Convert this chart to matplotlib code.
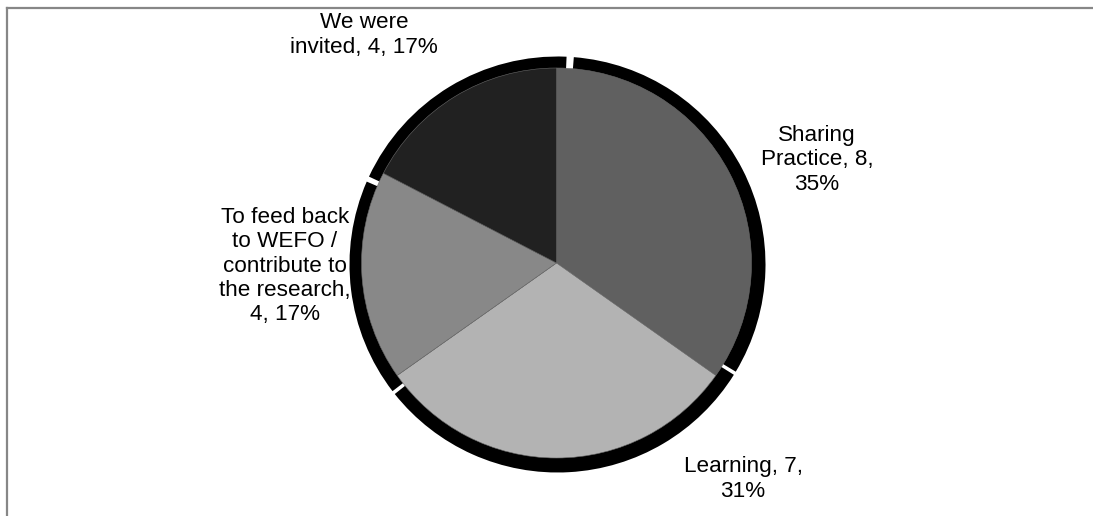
import matplotlib
matplotlib.use("Agg")
import matplotlib.pyplot as plt
from matplotlib.lines import Line2D

# ---- data ----
categories = ["Sharing Practice", "Learning",
              "To feed back to WEFO / contribute to the research", "We were invited"]
values = [8, 7, 4, 4]
percents = [35, 31, 17, 17]
labels = ["Sharing\nPractice, 8,\n35%",
          "Learning, 7,\n31%",
          "To feed back\nto WEFO /\ncontribute to\nthe research,\n4, 17%",
          "We were\ninvited, 4, 17%"]

# ---- style / layout ----
colors = ["#606060", "#b3b3b3", "#888888", "#212121"]
W, H = 1093, 516
pie_center = (556.5, H - 263)
pie_radius = 195
shadow_center = (557.5, H - 264.5)
shadow_radius = 208
shadow_pads = [(4.2, -4.5), (3.3, 3.2), (3.9, 2.3), (-2.5, 2.4)]
label_pos = [(817, 160), (743, 479), (285, 266), (364, 35)]

plt.rcParams['font.family'] = ['Liberation Sans', 'DejaVu Sans']

fig = plt.figure(figsize=(W / 100, H / 100), dpi=100)
ax = fig.add_axes([0, 0, 1, 1])

# shadow pie
sw, _ = ax.pie(values, colors=["black"] * len(values), startangle=90,
               counterclock=False, center=shadow_center, radius=shadow_radius,
               wedgeprops=dict(linewidth=0))
for w, (p1, p2) in zip(sw, shadow_pads):
    w.set_theta1(w.theta1 + p1)
    w.set_theta2(w.theta2 + p2)

# main pie
ax.pie(values, colors=colors, startangle=90, counterclock=False,
       center=pie_center, radius=pie_radius,
       wedgeprops=dict(linewidth=0.4, edgecolor="#6a6a6a"))

ax.set_xlim(0, W)
ax.set_ylim(0, H)
ax.set_aspect('equal')
ax.axis('off')

for txt, (x, y) in zip(labels, label_pos):
    ax.text(x, H - y, txt, ha='center', va='center', fontsize=16.2,
            color='black', linespacing=1.2)

# chart area border (top and left)
fig.add_artist(Line2D([7 / W, 1], [1 - 7.5 / H, 1 - 7.5 / H], color="#878787",
                      linewidth=1.6, transform=fig.transFigure))
fig.add_artist(Line2D([7 / W, 7 / W], [0, 1 - 7.5 / H], color="#878787",
                      linewidth=1.6, transform=fig.transFigure))

fig.savefig("out.png", dpi=100)
